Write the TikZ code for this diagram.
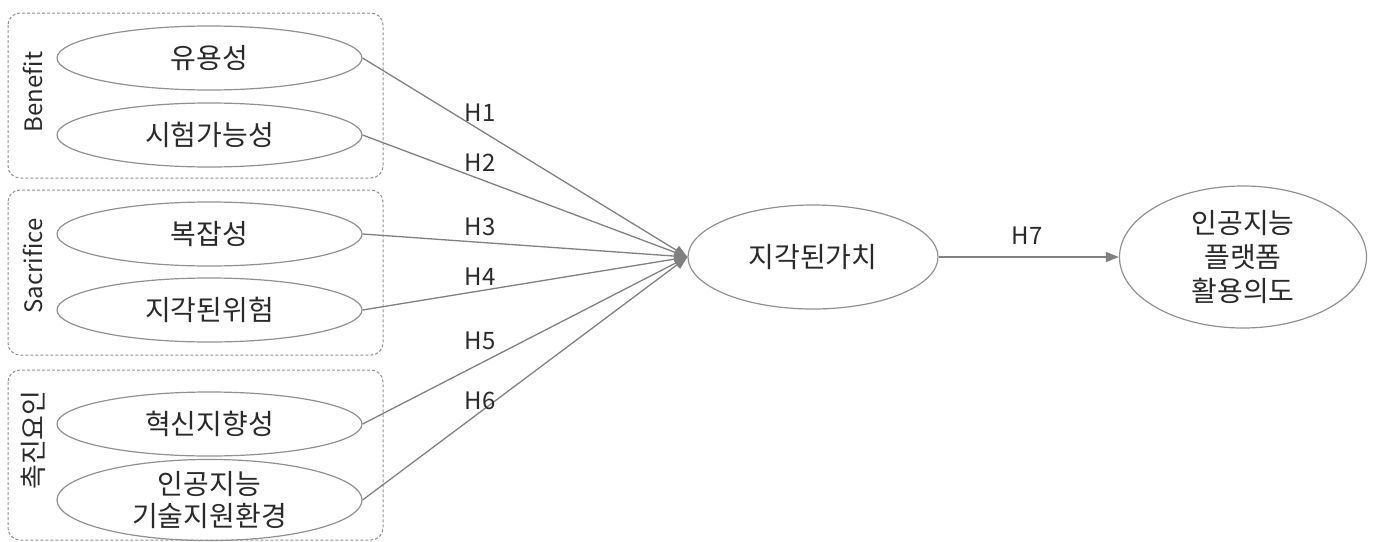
\documentclass[tikz,border=0pt]{standalone}
\usepackage{fontspec}
\setmainfont{Noto Sans CJK KR}
\usetikzlibrary{shapes.geometric,arrows.meta}
\definecolor{linegray}{HTML}{808080}
\definecolor{boxgray}{HTML}{909090}
\definecolor{txt}{HTML}{2A2A2A}
\tikzset{
  construct/.style={ellipse,draw=boxgray,line width=1.2pt,minimum width=#1,minimum height=64pt,inner sep=0pt,text=txt,font=\fontsize{28}{32}\selectfont,align=center},
  construct/.default=305pt,
  groupbox/.style={draw=boxgray,dashed,dash pattern=on 3pt off 2pt,rounded corners=12pt,line width=1pt},
  grouplabel/.style={rotate=90,text=txt,font=\fontsize{24}{28}\selectfont},
  hyp/.style={text=txt,font=\fontsize{24}{28}\selectfont},
  link/.style={draw=linegray,line width=1.3pt,-{Triangle[length=13pt,width=10pt]}},
}
\begin{document}
\begin{tikzpicture}[x=1pt,y=-1pt]
\useasboundingbox (0,0) rectangle (1383,541);
% group boxes
\draw[groupbox] (8,13) rectangle (383,178);
\draw[groupbox] (8,190) rectangle (383,355);
\draw[groupbox] (8,370) rectangle (383,540);
\node[grouplabel] (gb) at (33,92) {Benefit};
\node[grouplabel] (gs) at (33,266) {Sacrifice};
\node[grouplabel,font=\fontsize{27}{30}\selectfont] (gp) at (33,440) {촉진요인};
% constructs
\node[construct] (a1) at (209.5,58) {유용성};
\node[construct] (a2) at (209.5,135) {시험가능성};
\node[construct] (a3) at (209.5,234) {복잡성};
\node[construct] (a4) at (209.5,310) {지각된위험};
\node[construct] (a5) at (209.5,424) {혁신지향성};
\node[construct] (a6) at (209.5,500) {인공지능\\기술지원환경};
\node[construct=250pt,minimum height=104pt] (pv) at (813,257) {지각된가치};
\node[construct=247pt,minimum height=142pt,font=\fontsize{28}{34}\selectfont] (iu) at (1243,257) {인공지능\\플랫폼\\활용의도};
% links
\foreach \s in {a1,a2,a3,a4,a5,a6}{
  \draw[link] (\s.east) -- (pv.west);
}
\draw[link] (pv.east) -- (iu.west);
% labels
\node[hyp] (h1) at (480,113) {H1};
\node[hyp] (h2) at (480,163) {H2};
\node[hyp] (h3) at (480,227) {H3};
\node[hyp] (h4) at (480,277) {H4};
\node[hyp] (h5) at (480,341) {H5};
\node[hyp] (h6) at (480,401) {H6};
\node[hyp] (h7) at (1027,236) {H7};
\end{tikzpicture}
\end{document}
